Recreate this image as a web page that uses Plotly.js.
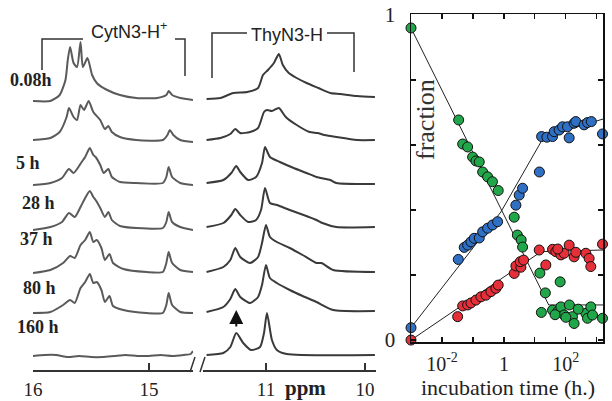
<!DOCTYPE html>
<html><head><meta charset="utf-8">
<script src="https://cdn.plot.ly/plotly-3.0.1.min.js"></script>
<style>html,body{margin:0;padding:0;background:#fff}#chart{width:612px;height:401px}</style>
</head><body><div id="chart"></div>
<script>
// ---------- NMR spectra (left) : ppm and relative intensity ----------
const timeLabels = ["0.08h", "5 h", "28 h", "37 h", "80 h", "160 h"];
const stackOffsets = [271, 227, 185, 142, 98, 56, 14];

const cytPpm1 = [16.0,15.85,15.77,15.72,15.70,15.68,15.65,15.62,15.59,15.57,15.53,15.49,15.45,15.36,15.25,15.11,14.93,14.85,14.83,14.80,14.73,14.62];
const cytInt1 = [-2,-2,4,19,39,52,36,32,57,32,41,24,16,9,4,1,1,4,8,4,1,-1];
const cytPpm2 = [16.0,15.85,15.77,15.71,15.69,15.65,15.62,15.59,15.56,15.52,15.48,15.42,15.38,15.35,15.32,15.25,15.11,14.88,14.84,14.82,14.79,14.73,14.62];
const cytInt2 = [3,5,11,26,35,26,23,38,33,42,31,23,14,17,11,6,3,3,8,13,8,3,1];
const cytPpm3 = [16.0,15.85,15.75,15.69,15.65,15.58,15.55,15.51,15.48,15.46,15.42,15.39,15.35,15.32,15.25,15.11,14.88,14.85,14.83,14.80,14.73,14.62];
const cytInt3 = [0,2,7,16,12,23,28,37,30,28,20,12,16,8,3,2,2,8,18,8,2,0];
const cytPpm4 = [16.0,15.85,15.75,15.69,15.64,15.59,15.55,15.51,15.48,15.46,15.42,15.38,15.35,15.32,15.25,15.11,14.88,14.85,14.83,14.80,14.73,14.62];
const cytInt4 = [-2,1,6,15,11,21,30,37,31,28,20,11,16,8,2,0,0,6,16,6,1,-2];
const cytPpm5 = [16.0,15.85,15.74,15.68,15.64,15.59,15.55,15.51,15.48,15.45,15.41,15.38,15.34,15.31,15.22,15.02,14.88,14.85,14.83,14.80,14.73,14.62];
const cytInt5 = [-1,2,9,16,14,27,32,40,30,32,24,12,18,9,3,0,0,9,20,9,2,0];
const cytPpm6 = [16.0,15.85,15.74,15.68,15.64,15.59,15.55,15.51,15.48,15.45,15.41,15.38,15.34,15.31,15.22,15.02,14.88,14.85,14.83,14.80,14.73,14.62];
const cytInt6 = [1,2,9,14,11,26,32,40,31,32,24,12,18,8,4,1,1,9,21,9,2,1];
const cytPpm7 = [16.0,15.9,15.8,15.7,15.6,15.5,15.4,15.3,15.2,15.1,15.0,14.9,14.8,14.7,14.64,14.62];
const cytInt7 = [0,1,1,-1,0,-1,-1,0,1,0,0,1,0,1,2,5];

const thyPpm1 = [11.60,11.46,11.33,11.19,11.08,11.03,10.98,10.92,10.87,10.83,10.77,10.69,10.59,10.47,10.35,10.25,10.08,9.90];
const thyInt1 = [0,1,6,7,11,24,29,36,45,34,26,21,16,11,6,5,3,2];
const thyPpm2 = [11.60,11.46,11.36,11.31,11.26,11.16,11.08,11.02,10.99,10.94,10.87,10.80,10.69,10.56,10.48,10.41,10.29,10.08,9.90];
const thyInt2 = [3,5,9,14,10,11,15,31,33,32,35,26,18,11,10,8,6,3,3];
const thyPpm3 = [11.60,11.43,11.35,11.30,11.26,11.18,11.10,11.04,11.01,10.96,10.86,10.72,10.59,10.49,10.35,10.29,9.90];
const thyInt3 = [2,5,12,19,13,5,8,22,38,28,23,17,12,8,5,2,1];
const thyPpm4 = [11.60,11.43,11.35,11.31,11.26,11.18,11.10,11.05,11.01,10.96,10.89,10.76,10.62,10.49,10.43,10.29,9.90];
const thyInt4 = [1,5,13,19,13,6,8,18,40,25,23,18,13,8,5,1,1];
const thyPpm5 = [11.60,11.43,11.36,11.31,11.26,11.16,11.08,11.04,11.00,10.96,10.89,10.76,10.63,10.49,10.44,10.32,9.90];
const thyInt5 = [0,5,12,24,15,9,15,29,47,35,30,24,17,9,9,2,0];
const thyPpm6 = [11.60,11.43,11.36,11.31,11.26,11.16,11.08,11.04,11.00,10.96,10.89,10.76,10.63,10.49,10.32,9.90];
const thyInt6 = [2,7,15,25,17,11,17,29,49,36,31,24,18,12,4,3];
const thyPpm7 = [11.60,11.43,11.36,11.30,11.23,11.15,11.06,11.02,10.99,10.94,10.89,10.79,9.90];
const thyInt7 = [1,3,9,23,13,6,9,23,43,16,6,2,1];

// ---------- fraction vs incubation time (right) ----------
const greenT = [0.001,0.0346,0.0466,0.0674,0.0977,0.125,0.160,0.206,0.298,0.426,0.655,2.15,2.72,3.61,4.01,14.5,21.8,65.5,16.2,37.2,54,69,88.3,130,164,185,442,501,640,726,1528,100,251,45];
const greenF = [0.96,0.677,0.603,0.594,0.563,0.551,0.548,0.517,0.502,0.487,0.460,0.378,0.323,0.308,0.286,0.206,0.145,0.179,0.085,0.092,0.087,0.102,0.077,0.108,0.072,0.051,0.082,0.067,0.102,0.077,0.067,0.07,0.095,0.078];
const blueT = [0.001,0.0336,0.0524,0.0674,0.0862,0.110,0.160,0.206,0.298,0.432,0.626,2.44,3.12,4.01,14.0,16.5,24.4,37.2,42,60.8,78.3,113,128,185,210,389,501,665,1528];
const blueF = [0.038,0.248,0.285,0.292,0.302,0.313,0.314,0.333,0.344,0.354,0.364,0.415,0.446,0.467,0.517,0.626,0.624,0.626,0.641,0.646,0.656,0.656,0.622,0.667,0.672,0.662,0.669,0.672,0.634];
const redT = [0.001,0.0321,0.0466,0.0674,0.0862,0.125,0.181,0.263,0.381,0.552,0.655,2.15,2.44,3.54,3.36,4.32,13.8,22.6,37.2,47.5,69,88,128,185,442,565,640,1528,55,210];
const redF = [0,0.072,0.105,0.108,0.114,0.123,0.133,0.138,0.149,0.159,0.169,0.205,0.228,0.224,0.241,0.246,0.277,0.231,0.279,0.272,0.262,0.267,0.292,0.256,0.267,0.251,0.226,0.295,0.28,0.27];
// guide lines
const greenLineT = [0.001, 28, 1600];
const greenLineF = [0.96, 0.108, 0.108];
const blueLineT = [0.001, 0.8, 19.5, 1600];
const blueLineF = [0.038, 0.394, 0.625, 0.68];
const redLineT = [0.001, 16, 1600];
const redLineF = [0.0, 0.272, 0.277];
// axis ticks
const timeTickVals = [0.01, 1, 100];
const timeTickText = ['10<sup>-2</sup>', '1', '10<sup>2</sup>'];
const timeMinorVals = [0.001, 0.1, 10, 1000];
const fracTickVals = [0, 1];
const fracMinorVals = [0.2, 0.4, 0.6, 0.8];

const W = 612, H = 401;
const px = x => x / W, py = y => 1 - y / H;
const SERIF = "Liberation Serif, Times New Roman, serif";
const SANS = "Liberation Sans, Arial, sans-serif";
const cytColor = "#5a5a5a", thyColor = "#3a3a3a";

const cyt = [[cytPpm1,cytInt1],[cytPpm2,cytInt2],[cytPpm3,cytInt3],[cytPpm4,cytInt4],[cytPpm5,cytInt5],[cytPpm6,cytInt6],[cytPpm7,cytInt7]];
const thy = [[thyPpm1,thyInt1],[thyPpm2,thyInt2],[thyPpm3,thyInt3],[thyPpm4,thyInt4],[thyPpm5,thyInt5],[thyPpm6,thyInt6],[thyPpm7,thyInt7]];

const traces = [];
cyt.forEach((s, i) => traces.push({x: s[0], y: s[1].map(v => v + stackOffsets[i]), xaxis: 'x', yaxis: 'y',
  mode: 'lines', line: {color: cytColor, width: 2, shape: 'spline', smoothing: 0.6}, hoverinfo: 'skip'}));
thy.forEach((s, i) => traces.push({x: s[0], y: s[1].map(v => v + stackOffsets[i]), xaxis: 'x2', yaxis: 'y',
  mode: 'lines', line: {color: thyColor, width: 2, shape: 'spline', smoothing: 0.6}, hoverinfo: 'skip'}));

[[greenLineT, greenLineF],[blueLineT, blueLineF],[redLineT, redLineF]].forEach(l => traces.push({
  x: l[0], y: l[1], xaxis: 'x3', yaxis: 'y2', mode: 'lines', line: {color: '#222', width: 1}, cliponaxis: false}));
[[greenT, greenF, '#22a64a'],[blueT, blueF, '#2f6fc4'],[redT, redF, '#e5303a']].forEach(s => traces.push({
  x: s[0], y: s[1], xaxis: 'x3', yaxis: 'y2', mode: 'markers', cliponaxis: false,
  marker: {color: s[2], size: 10, line: {color: '#111', width: 1}}}));

const spAxis = {showline: true, linecolor: '#333', linewidth: 1.5, ticks: 'inside', ticklen: 7, tickwidth: 1.5,
  tickcolor: '#333', showgrid: false, zeroline: false, anchor: 'y', tickmode: 'array',
  tickfont: {family: SERIF, size: 19, color: '#222'}, ticklabelstandoff: 2};

const annotations = [];
const lblX = [31, 28, 38, 36, 39, 38], lblY = [80, 163, 203, 239, 288, 327];
const ann = (x, y, text, font, extra) => Object.assign({xref: 'paper', yref: 'paper', x: px(x), y: py(y), text: text,
  showarrow: false, xanchor: 'center', yanchor: 'middle', font: font}, extra || {});
timeLabels.forEach((t, i) => annotations.push(ann(lblX[i], lblY[i], '<b>' + t + '</b>', {family: SERIF, size: 18, color: '#222'})));
annotations.push(ann(129, 31, 'CytN3-H<sup>+</sup>', {family: SANS, size: 18, color: '#222'}));
annotations.push(ann(287, 35, 'ThyN3-H', {family: SANS, size: 18, color: '#222'}));
annotations.push(ann(305, 388, '<b>ppm</b>', {family: SERIF, size: 21, color: '#222'}));
annotations.push(ann(425, 120, 'fraction', {family: SERIF, size: 26, color: '#333'}, {textangle: -90}));
annotations.push(ann(508, 401, 'incubation time (h.)', {family: SERIF, size: 22, color: '#222'}, {yanchor: 'bottom', borderpad: 0}));
annotations.push({xref: 'x2', yref: 'y', x: 11.30, y: 60, ax: 0, ay: 18, text: '', showarrow: true,
  arrowhead: 2, arrowsize: 1.4, arrowwidth: 2, arrowcolor: '#111'});

const bracket = {type: 'path', xref: 'paper', yref: 'paper', line: {color: '#333', width: 1.5}};
const P = (pts) => 'M' + pts.map(p => px(p[0]) + ',' + py(p[1])).join(' L');
const shapes = [
  Object.assign({}, bracket, {path: P([[42,70],[42,39],[83,39]])}),
  Object.assign({}, bracket, {path: P([[175,39],[185,39],[185,76]])}),
  Object.assign({}, bracket, {path: P([[212,78],[212,33],[247,33]])}),
  Object.assign({}, bracket, {path: P([[327,33],[354,33],[354,72]])}),
  Object.assign({}, bracket, {path: P([[190,372],[195,357]])}),
  Object.assign({}, bracket, {path: P([[200,372],[205,357]])})
];

const fracAxisBase = {showline: true, mirror: 'ticks', linecolor: '#111', linewidth: 1.5, ticks: 'inside', ticklen: 5,
  tickwidth: 1.2, tickcolor: '#111', showgrid: false, zeroline: false, tickmode: 'array',
  tickfont: {family: SERIF, size: 21, color: '#222'}};

const layout = {
  width: W, height: H, margin: {l: 0, r: 0, t: 0, b: 0}, showlegend: false,
  paper_bgcolor: '#fff', plot_bgcolor: 'rgba(0,0,0,0)',
  xaxis: Object.assign({}, spAxis, {domain: [px(33), px(193)], range: [16, 14.62], tickvals: [16, 15], ticktext: ['16', '15']}),
  xaxis2: Object.assign({}, spAxis, {domain: [px(203), px(376)], range: [11.636, 9.889], tickvals: [11, 10], ticktext: ['11', '10']}),
  yaxis: {domain: [py(370), py(12)], range: [0, 358], visible: false},
  xaxis3: Object.assign({}, fracAxisBase, {type: 'log', domain: [px(411), px(603)], range: [-3, 3.2], anchor: 'y2',
    tickvals: timeTickVals, ticktext: timeTickText, ticklabelstandoff: 3, tickfont: {family: SERIF, size: 20, color: '#222'},
    minor: {tickmode: 'array', tickvals: timeMinorVals, ticks: 'inside', ticklen: 5, tickwidth: 1.2, tickcolor: '#111', showgrid: false}}),
  yaxis2: Object.assign({}, fracAxisBase, {domain: [py(342), py(14)], range: [-0.006, 1.003], anchor: 'x3',
    tickvals: fracTickVals, ticktext: ['0', '1'], ticklabelstandoff: 10,
    minor: {tickmode: 'array', tickvals: fracMinorVals, ticks: 'inside', ticklen: 5, tickwidth: 1.2, tickcolor: '#111', showgrid: false}}),
  annotations: annotations, shapes: shapes
};
Plotly.newPlot('chart', traces, layout, {staticPlot: true, displayModeBar: false});
</script></body></html>
